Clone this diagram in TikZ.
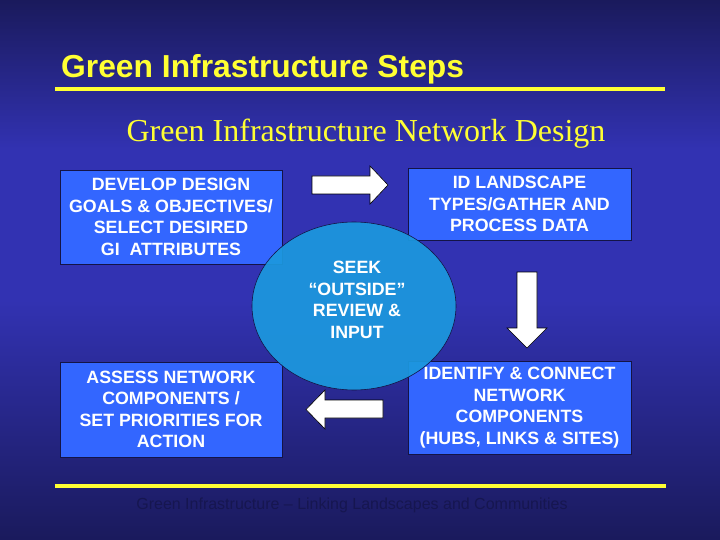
\documentclass[tikz,border=0pt]{standalone}
\usepackage{fontspec}
\usetikzlibrary{shapes.geometric}
\setmainfont{Liberation Sans}
\newfontfamily\serifface{Liberation Serif}
\definecolor{bgdark}{RGB}{26,26,92}
\definecolor{bgmid}{RGB}{50,50,178}
\definecolor{boxblue}{RGB}{51,102,255}
\definecolor{ovalblue}{RGB}{28,152,222}
\definecolor{edgenavy}{RGB}{20,20,70}
\definecolor{titleyellow}{RGB}{255,255,51}
\definecolor{footnavy}{RGB}{22,22,80}
\tikzset{
  stepbox/.style={draw=edgenavy, line width=0.8pt, fill=boxblue, text=white,
    font=\fontsize{17.8}{21.5}\selectfont\bfseries, align=center, inner sep=0pt},
  blockarrow/.style={draw=black, line width=0.6pt, fill=white},
}
\begin{document}
\begin{tikzpicture}[x=1pt,y=-1pt]
\useasboundingbox (0,0) rectangle (720,540);
\shade[top color=bgdark, bottom color=bgmid, middle color=bgmid] (0,0) rectangle (720,300);
\shade[top color=bgmid, bottom color=bgdark] (0,300) rectangle (720,540.5);
% title
\node[anchor=base west, inner sep=0pt, text=titleyellow, font=\fontsize{31.8}{36}\selectfont\bfseries] (title) at (61,78) {Green Infrastructure Steps};
\draw[titleyellow, line width=4pt] (55,89) coordinate (tl1) -- (665,89) coordinate (tl2);
\node[anchor=base, inner sep=0pt, text=titleyellow, font=\serifface\fontsize{32}{36}\selectfont] (subtitle) at (366,142) {Green Infrastructure Network Design};
% boxes
\node[stepbox, minimum width=222pt, minimum height=94pt] (b1) at (171,217) {DEVELOP DESIGN\\GOALS \& OBJECTIVES/\\SELECT DESIRED\\GI\ \ ATTRIBUTES};
\node[stepbox, minimum width=223pt, minimum height=72pt] (b2) at (519.5,204) {ID LANDSCAPE\\TYPES/GATHER AND\\PROCESS DATA};
\node[stepbox, minimum width=222pt, minimum height=95pt] (b3) at (171,409.5) {ASSESS NETWORK\\COMPONENTS /\\SET PRIORITIES FOR\\ACTION};
\node[stepbox, minimum width=223pt, minimum height=93pt] (b4) at (519.5,407.5) {IDENTIFY \& CONNECT\\NETWORK\\COMPONENTS\\(HUBS, LINKS \& SITES)};
% oval
\node[ellipse, draw=edgenavy, line width=0.6pt, fill=ovalblue, fill opacity=0.93, text opacity=1, text=white,
  minimum width=204pt, minimum height=168pt, inner sep=0pt] (oval) at (354,306) {};
\node[text=white, font=\fontsize{17.8}{21.7}\selectfont\bfseries, align=center, inner sep=0pt] (ovaltext) at (357,300) {SEEK\\“OUTSIDE”\\REVIEW \&\\INPUT};
% block arrows
\draw[blockarrow] (312,176) -- (370,176) -- (370,166) -- (388,185) -- (370,204) -- (370,194) -- (312,194) -- cycle;
\draw[blockarrow] (517,272) -- (537,272) -- (537,328) -- (547,328) -- (527,348) -- (507,328) -- (517,328) -- cycle;
\draw[blockarrow] (383,400) -- (325,400) -- (325,390) -- (306,409.5) -- (325,429) -- (325,418) -- (383,418) -- cycle;
% footer
\draw[titleyellow, line width=4pt] (55,486) coordinate (bl1) -- (666,486) coordinate (bl2);
\node[anchor=base, inner sep=0pt, text=footnavy, font=\fontsize{16}{19}\selectfont] (footer) at (352,509) {Green Infrastructure -- Linking Landscapes and Communities};
\end{tikzpicture}
\end{document}
